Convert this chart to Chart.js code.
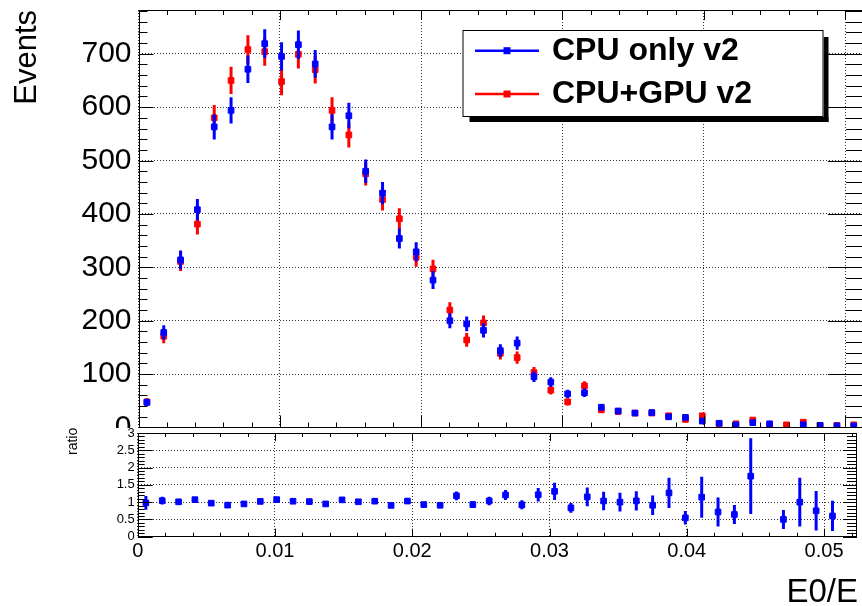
<!DOCTYPE html>
<html><head><meta charset="utf-8">
<script src="https://cdn.jsdelivr.net/npm/chart.js@4"></script>
<style>
html,body{margin:0;padding:0;background:#fff;overflow:hidden;width:862px;height:606px;position:relative;}
#topWrap{position:absolute;left:0;top:0;width:900px;height:440px;}
#botWrap{position:absolute;left:0;top:428px;width:862px;height:178px;background:#fff;}
canvas{display:block;}
</style></head><body>
<div id="topWrap"><canvas id="top" width="900" height="440"></canvas></div>
<div id="botWrap"><canvas id="bot" width="862" height="178"></canvas></div>
<script>
// ---- data ----
const xMin = 0, xMax = 0.0524, nBins = 44;
const cpuOnly = [47,178,314,408,563,594,671,719,695,717,681,563,584,480,439,354,329,276,200,194,182,144,158,95,85,63,65,38,31,27,28,20,19,12,8,5,9,7,0,5,4,3,3,0];
const cpuGpu  = [48,171,311,381,580,650,708,704,648,699,670,594,548,475,427,391,319,297,220,164,196,139,131,103,70,48,78,33,30,27,27,22,15,22,7,7,14,4,5,10,4,4,5,0];
const seriesNames = ['CPU only v2', 'CPU+GPU v2'];
const yTicksTop = [0,100,200,300,400,500,600,700];
const xTickLabels = ['0','0.01','0.02','0.03','0.04','0.05'];
const ratioTickLabels = ['0','0.5','1','1.5','2','2.5','3'];
const xTitle = 'E0/E', yTitle = 'Events', ratioTitle = 'ratio';

const FONT = "'Liberation Sans', Arial, Helvetica, sans-serif";
const BLUE = '#0000ff', RED = '#ff0000';

const binW = (xMax - xMin) / nBins;
const centers = cpuOnly.map((_, i) => xMin + (i + 0.5) * binW);
const toPts = arr => arr.map((v, i) => ({x: centers[i], y: v > 0 ? v : null}));
const poisson = arr => arr.map(v => Math.sqrt(v));
const ratio = cpuOnly.map((b, i) => (b > 0 && cpuGpu[i] > 0) ? b / cpuGpu[i] : null);
const ratioErr = cpuOnly.map((b, i) => (ratio[i] == null) ? 0 : ratio[i] * Math.sqrt(1 / b + 1 / cpuGpu[i]));

// ---- plugins ----
const errorBars = {
  id: 'errorBars',
  beforeDatasetDraw(chart, args) {
    const ds = chart.data.datasets[args.index];
    if (!ds.errors) return;
    const ctx = chart.ctx, ys = chart.scales.y, ca = chart.chartArea;
    ctx.save();
    ctx.beginPath(); ctx.rect(ca.left, ca.top, ca.right - ca.left, ca.bottom - ca.top); ctx.clip();
    ctx.strokeStyle = ds.borderColor; ctx.lineWidth = 3;
    args.meta.data.forEach((pt, i) => {
      const d = ds.data[i];
      if (d.y == null || !isFinite(pt.x)) return;
      const e = ds.errors[i];
      ctx.beginPath();
      ctx.moveTo(pt.x, ys.getPixelForValue(d.y - e));
      ctx.lineTo(pt.x, ys.getPixelForValue(d.y + e));
      ctx.stroke();
    });
    ctx.restore();
  }
};

const rootFrame = {
  id: 'rootFrame',
  afterDatasetsDraw(chart, args, o) {
    const ctx = chart.ctx, ca = chart.chartArea, xs = chart.scales.x, ys = chart.scales.y;
    ctx.save();
    ctx.strokeStyle = '#000'; ctx.lineWidth = 1;
    const line = (x1, y1, x2, y2) => { ctx.beginPath(); ctx.moveTo(x1, y1); ctx.lineTo(x2, y2); ctx.stroke(); };
    const isMaj = (v, m) => Math.abs(v / m - Math.round(v / m)) < 1e-6;
    const nx = Math.floor((xs.max - xs.min) / o.xMinor + 1e-6);
    for (let k = 0; k <= nx; k++) {
      const v = xs.min + k * o.xMinor, maj = isMaj(v, o.xMajor);
      const px = Math.round(xs.getPixelForValue(v)) + 0.5;
      line(px, ca.bottom, px, ca.bottom - (maj ? o.bMaj : o.bMin));
      line(px, ca.top, px, ca.top + (maj ? o.tMaj : o.tMin));
    }
    const ny = Math.floor((ys.max - ys.min) / o.yMinor + 1e-6);
    for (let k = 0; k <= ny; k++) {
      const v = ys.min + k * o.yMinor, maj = isMaj(v, o.yMajor);
      const py = Math.round(ys.getPixelForValue(v)) + 0.5;
      line(ca.left, py, ca.left + (maj ? o.lMaj : o.lMin), py);
      line(ca.right, py, ca.right - (maj ? o.rMaj : o.rMin), py);
    }
    ctx.strokeRect(Math.round(ca.left) + 0.5, Math.round(ca.top) + 0.5, Math.round(ca.right - ca.left) - 1, Math.round(ca.bottom - ca.top) - 1);
    ctx.restore();
  }
};

const legendBox = {
  id: 'legendBox',
  afterDraw(chart) {
    const ctx = chart.ctx;
    const bx = 462.5, by = 30, bw = 361, bh = 87;
    ctx.save();
    ctx.fillStyle = '#000';
    ctx.fillRect(bx + bw, by + 7, 5, bh - 2);
    ctx.fillRect(bx + 7, by + bh, bw - 2, 5);
    ctx.fillStyle = '#fff';
    ctx.fillRect(bx, by, bw, bh);
    ctx.strokeStyle = '#000'; ctx.lineWidth = 1;
    ctx.strokeRect(bx + 0.5, by + 0.5, bw - 1, bh - 1);
    const rows = [50.7, 94];
    chart.data.datasets.forEach((ds, i) => {
      const y = rows[i];
      ctx.strokeStyle = ds.borderColor; ctx.lineWidth = 2.5;
      ctx.beginPath(); ctx.moveTo(475, y); ctx.lineTo(539, y); ctx.stroke();
      ctx.fillStyle = ds.borderColor;
      ctx.fillRect(503.5, y - 3.5, 7, 7);
      ctx.fillStyle = '#000';
      ctx.font = 'bold 32px ' + FONT;
      ctx.textAlign = 'left'; ctx.textBaseline = 'alphabetic';
      ctx.fillText(ds.label, 552, y + 9);
    });
    ctx.save();
    ctx.translate(36, 10); ctx.rotate(-Math.PI / 2);
    ctx.font = '31px ' + FONT; ctx.fillStyle = '#000';
    ctx.textAlign = 'right'; ctx.textBaseline = 'alphabetic';
    ctx.fillText(yTitle, 0, 0);
    ctx.restore();
    ctx.restore();
  }
};

const bottomTexts = {
  id: 'bottomTexts',
  afterDraw(chart) {
    const ctx = chart.ctx;
    ctx.save();
    ctx.fillStyle = '#000';
    ctx.font = '33px ' + FONT;
    ctx.textAlign = 'right'; ctx.textBaseline = 'alphabetic';
    ctx.fillText(xTitle, 858, 174);
    ctx.translate(77, 27); ctx.rotate(-Math.PI / 2);
    ctx.font = '14px ' + FONT;
    ctx.textAlign = 'left';
    ctx.fillText(ratioTitle, 0, 0);
    ctx.restore();
  }
};

const gridDash = [1, 2];
const GRID = '#333';
const noPadY = (w) => (s) => { s.width = w; s.paddingTop = 0; s.paddingBottom = 0; };
const noPadX = (h) => (s) => { s.height = h; s.paddingLeft = 0; s.paddingRight = 0; };

// ---- top panel ----
new Chart(document.getElementById('top'), {
  type: 'scatter',
  data: { datasets: [
    { label: seriesNames[0], data: toPts(cpuOnly), errors: poisson(cpuOnly), borderColor: BLUE, backgroundColor: BLUE,
      pointStyle: 'rect', pointRadius: 4, pointBorderWidth: 1, showLine: false },
    { label: seriesNames[1], data: toPts(cpuGpu), errors: poisson(cpuGpu), borderColor: RED, backgroundColor: RED,
      pointStyle: 'rect', pointRadius: 4, pointBorderWidth: 1, showLine: false }
  ]},
  options: {
    responsive: false, animation: false, events: [],
    layout: { padding: { left: 0, top: 10, right: 21, bottom: 12.5 } },
    plugins: {
      legend: { display: false }, tooltip: { enabled: false },
      rootFrame: { xMajor: 0.01, xMinor: 0.002, yMajor: 100, yMinor: 20,
        bMaj: 12, bMin: 5, tMaj: 10, tMin: 5, lMaj: 15, lMin: 9, rMaj: 51, rMin: 33 }
    },
    scales: {
      x: { type: 'linear', min: xMin, max: xMax,
        ticks: { display: false, stepSize: 0.01, includeBounds: false },
        grid: { drawTicks: false, color: GRID, lineWidth: 1 },
        border: { display: false, dash: gridDash },
        afterFit: noPadX(0) },
      y: { type: 'linear', min: 0, max: 782,
        ticks: { stepSize: 100, includeBounds: false, autoSkip: false, color: '#000', padding: 7,
          font: { family: FONT, size: 30 },
          callback: (v) => yTicksTop.includes(v) ? String(v) : '' },
        grid: { drawTicks: false, color: GRID, lineWidth: 1 },
        border: { display: false, dash: gridDash },
        afterFit: noPadY(138.5) }
    }
  },
  plugins: [errorBars, rootFrame, legendBox]
});

// ---- ratio panel ----
new Chart(document.getElementById('bot'), {
  type: 'scatter',
  data: { datasets: [
    { label: 'ratio', data: ratio.map((r, i) => ({x: centers[i], y: r})), errors: ratioErr,
      borderColor: BLUE, backgroundColor: BLUE, pointStyle: 'rect', pointRadius: 4, pointBorderWidth: 1, showLine: false }
  ]},
  options: {
    responsive: false, animation: false, events: [],
    layout: { padding: { left: 0, top: 2, right: 1.5, bottom: 0 } },
    plugins: {
      legend: { display: false }, tooltip: { enabled: false },
      rootFrame: { xMajor: 0.01, xMinor: 0.002, yMajor: 0.5, yMinor: 0.1,
        bMaj: 8, bMin: 4, tMaj: 8, tMin: 4, lMaj: 15, lMin: 7, rMaj: 14, rMin: 10 }
    },
    scales: {
      x: { type: 'linear', min: xMin, max: xMax,
        ticks: { stepSize: 0.01, includeBounds: false, autoSkip: false, maxRotation: 0, color: '#000', padding: 3,
          font: { family: FONT, size: 20 },
          callback: (v) => { const k = Math.round(v / 0.01); return (Math.abs(v - k * 0.01) < 1e-9 && xTickLabels[k] !== undefined) ? xTickLabels[k] : ''; } },
        grid: { drawTicks: false, color: GRID, lineWidth: 1 },
        border: { display: false, dash: gridDash },
        afterFit: noPadX(69.3) },
      y: { type: 'linear', min: 0, max: 3,
        ticks: { stepSize: 0.5, includeBounds: false, autoSkip: false, color: '#000', padding: 3,
          font: { family: FONT, size: 13 },
          callback: (v) => { const k = Math.round(v / 0.5); return ratioTickLabels[k] !== undefined ? ratioTickLabels[k] : ''; } },
        grid: { drawTicks: false, color: GRID, lineWidth: 1 },
        border: { display: false, dash: gridDash },
        afterFit: noPadY(137.7) }
    }
  },
  plugins: [errorBars, rootFrame, bottomTexts]
});
</script>
</body></html>
